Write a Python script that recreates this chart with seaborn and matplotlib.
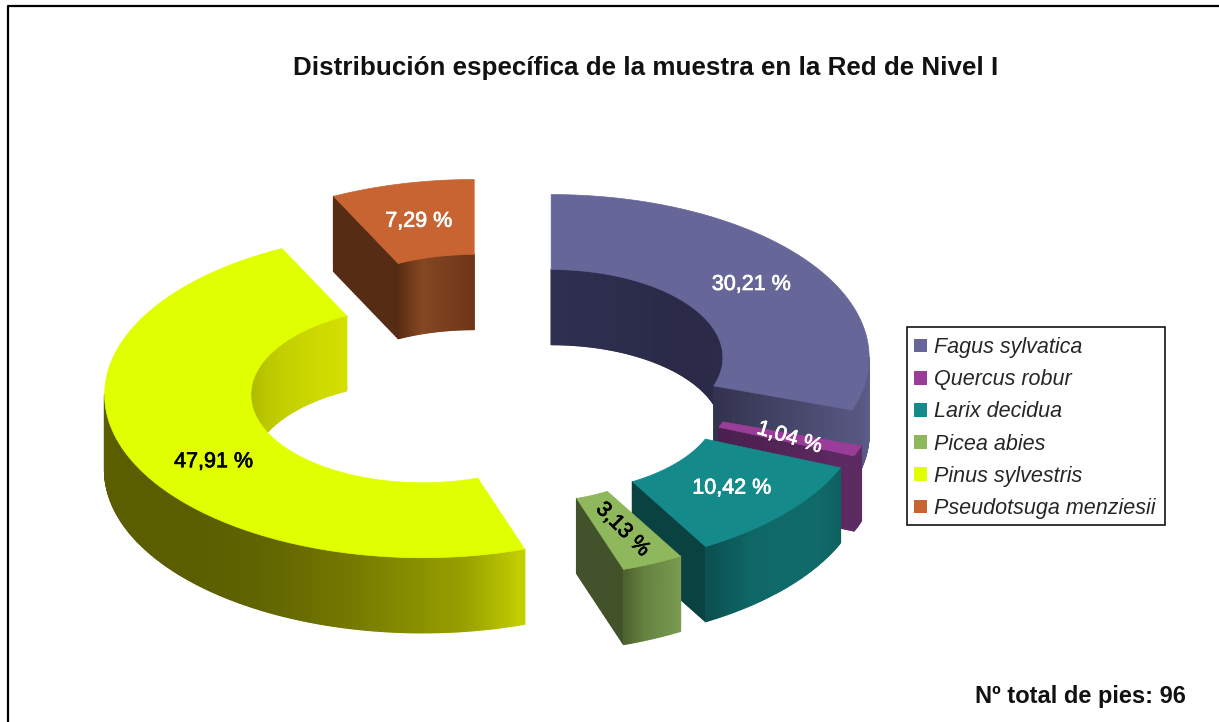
import numpy as np
import matplotlib
matplotlib.use('Agg')
import matplotlib.pyplot as plt
import seaborn as sns
from matplotlib.collections import PolyCollection
from matplotlib.patches import Patch, Rectangle
import matplotlib.patheffects as pe

# data
species = ['Fagus sylvatica', 'Quercus robur', 'Larix decidua', 'Picea abies',
           'Pinus sylvestris', 'Pseudotsuga menziesii']
percent = [30.21, 1.04, 10.42, 3.13, 47.91, 7.29]
title = 'Distribución específica de la muestra en la Red de Nivel I'
note = 'Nº total de pies: 96'

# colours
top_col = ['#666699', '#993d99', '#148a8a', '#8fb85c', '#e0ff00', '#c86432']
label_col = ['white', 'white', 'white', 'black', 'black', 'white']
label_rot = [0, -17, 0, -45, 0, 0]
label_nudge = [(1, 0), (0, 0), (1, 0), (0, 0), (17, 19), (0, 1)]
outer_col = [['#5f5f8e', '#55557f'],
             ['#5e2a62', '#5a2a60'],
             ['#0d6060', '#106a6a', '#106a6a', '#0f6666', '#0c5050'],
             ['#7a9a50', '#6f8e48', '#65823f', '#4e6430'],
             ['#c4d000', '#98a000', '#858c00', '#737800', '#666a00', '#5e6200',
              '#5a5e00', '#5a5e00', '#5a5e00', '#5a5e00', '#5a5e00'],
             ['#000000']]  # Pseudotsuga: no outer wall in view
inner_col = [['#2f2f50', '#2a2a48', '#2c2c4a'],
             ['#4a1f4a'], ['#0a4040'], ['#42522a'],
             ['#a8b400', '#c0cc00', '#d4e000'],
             ['#5a2c14', '#864722', '#7a3f1e', '#6e3518']]
end_col = [['#33334f', '#55557f'], ['#4a1f4e', '#5e2a62'], ['#0a4242', '#0a4242'],
           ['#42522a', '#42522a'], None, None]
start_col = [None, None, None, None, None, ['#572c14', '#572c14']]
draw_order = [5, 0, 4, 1, 2, 3]

# geometry of the tilted ring, in picture pixels
CX, CY = 491, 380
RX, RY = 318, 163
HOLE = 0.54
DEPTH = 75
EXPL_X, EXPL_Y = 74, 38.5

sns.set_theme(style='white')
plt.rcParams['font.family'] = ['Liberation Sans', 'DejaVu Sans']

fig = plt.figure(figsize=(12.19, 7.22), dpi=100)
ax = fig.add_axes([0, 0, 1, 1])
ax.set_xlim(0, 1219)
ax.set_ylim(722, 0)
ax.axis('off')

edges = np.concatenate([[0], np.cumsum(percent)]) / np.sum(percent) * 360


def point(th, r, x0, y0):
    t = np.radians(th)
    return x0 + r * RX * np.sin(t), y0 - r * RY * np.cos(t)


def strips(xs, ys, cols):
    # thin quads hanging from a top edge, edges overlap so no seams show
    polys = []
    for i in range(len(cols)):
        polys.append([(xs[i], ys[i]), (xs[i + 1], ys[i + 1]),
                      (xs[i + 1], ys[i + 1] + DEPTH), (xs[i], ys[i] + DEPTH)])
    ax.add_collection(PolyCollection(polys, facecolors=cols, edgecolors=cols, linewidths=1.0))


def wall(a, b, r, x0, y0, colors):
    n = max(int(b - a) * 2, 4)
    cols = sns.blend_palette(colors * 2 if len(colors) == 1 else colors, n)
    xs, ys = point(np.linspace(a, b, n + 1), r, x0, y0)
    strips(xs, ys, cols)


def radial(th, x0, y0, colors):
    r = np.linspace(HOLE, 1, 31)
    xs, ys = point(th, r, x0, y0)
    strips(xs, ys, sns.blend_palette(colors, 30))


for i in draw_order:
    a, b = edges[i], edges[i + 1]
    mid = np.radians((a + b) / 2)
    x0 = CX + EXPL_X * np.sin(mid)
    y0 = CY - EXPL_Y * np.cos(mid)

    # inner wall shows on the back half, outer wall on the front half
    if a < 90:
        wall(a, min(b, 90), HOLE, x0, y0, inner_col[i])
    if b > 270:
        wall(max(a, 270), b, HOLE, x0, y0, inner_col[i])
    if start_col[i]:
        radial(a, x0, y0, start_col[i])
    if end_col[i]:
        radial(b, x0, y0, end_col[i])
    if b > 90 and a < 270:
        wall(max(a, 90), min(b, 270), 1, x0, y0, outer_col[i])

    th = np.linspace(a, b, 120)
    xo, yo = point(th, 1, x0, y0)
    xi, yi = point(th[::-1], HOLE, x0, y0)
    ax.fill(np.r_[xo, xi], np.r_[yo, yi], color=top_col[i], lw=0.5)

    lx, ly = point((a + b) / 2, 0.77, x0, y0)
    txt = f'{percent[i]:.2f}'.replace('.', ',') + ' %'
    ax.text(lx + label_nudge[i][0], ly + label_nudge[i][1], txt, color=label_col[i], fontsize=15.5,
            rotation=label_rot[i], rotation_mode='anchor', ha='center', va='center', zorder=5,
            path_effects=[pe.withStroke(linewidth=0.5, foreground=label_col[i])])

# frame, only top and left fall inside the crop
ax.plot([8, 8, 1219], [722, 6, 6], color='black', lw=1.6, zorder=1)

ax.text(646, 67.5, title, fontsize=18.7, fontweight='bold', ha='center', va='center', color='#111111')
ax.text(1080, 697, note, fontsize=17, fontweight='bold', ha='center', va='center', color='#111111')

ax.add_patch(Rectangle((907, 327), 258, 198, facecolor='white', edgecolor='black', lw=1.1, zorder=6))
handles = [Patch(facecolor=c, edgecolor='none', label=s) for c, s in zip(top_col, species)]
leg = ax.legend(handles=handles, loc='upper left', bbox_to_anchor=(907, 330),
                bbox_transform=ax.transData, borderaxespad=0, frameon=False,
                handlelength=0.6, handleheight=0.6, handletextpad=0.33,
                labelspacing=0.52, borderpad=0.33,
                prop={'family': 'Liberation Sans', 'style': 'italic', 'size': 15.5})
leg.set_zorder(7)

plt.savefig('out.png', dpi=100)
